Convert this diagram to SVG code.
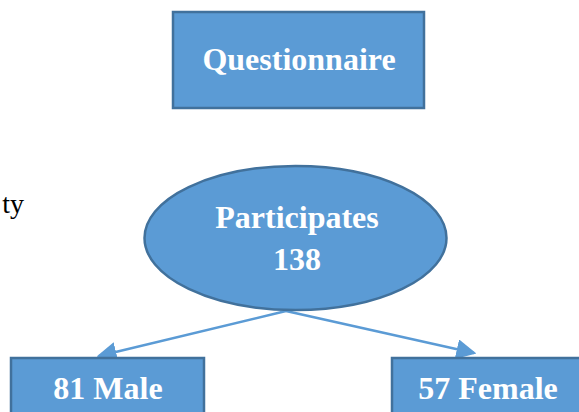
<svg xmlns="http://www.w3.org/2000/svg" width="579" height="412" viewBox="0 0 579 412">
<style>
.node{fill:#5B9BD5;stroke:#41719C;stroke-width:2.5}
.lbl{font-family:"Liberation Serif","Times New Roman",serif;font-weight:bold;font-size:32px;fill:#ffffff;text-anchor:middle}
.edge{stroke:#5B9BD5;stroke-width:2.5;fill:none;marker-end:url(#arr)}
</style>
<defs>
<marker id="arr" markerWidth="8" markerHeight="8" refX="7" refY="4" orient="auto" markerUnits="strokeWidth" viewBox="0 0 8 8">
<path d="M0,0 L8,4 L0,8 Z" fill="#5B9BD5"/>
</marker>
</defs>
<rect width="579" height="412" fill="#ffffff"/>
<text x="24" y="213" font-family="Liberation Serif, Times New Roman, serif" font-size="28" fill="#000000" text-anchor="end">ty</text>
<g id="connectors">
<line class="edge" x1="286" y1="311" x2="99" y2="356"/>
<line class="edge" x1="286" y1="311" x2="474" y2="353"/>
</g>
<g id="questionnaire">
<rect class="node" x="173" y="12" width="251" height="96"/>
<text class="lbl" x="299" y="70">Questionnaire</text>
</g>
<g id="participates">
<ellipse class="node" cx="295.5" cy="238" rx="151" ry="72"/>
<text class="lbl" x="297" y="228">Participates</text>
<text class="lbl" x="297" y="270">138</text>
</g>
<g id="male">
<rect class="node" x="11" y="358" width="193" height="70"/>
<text class="lbl" x="108" y="399">81 Male</text>
</g>
<g id="female">
<rect class="node" x="392" y="358" width="194" height="70"/>
<text class="lbl" x="488" y="399">57 Female</text>
</g>
</svg>
